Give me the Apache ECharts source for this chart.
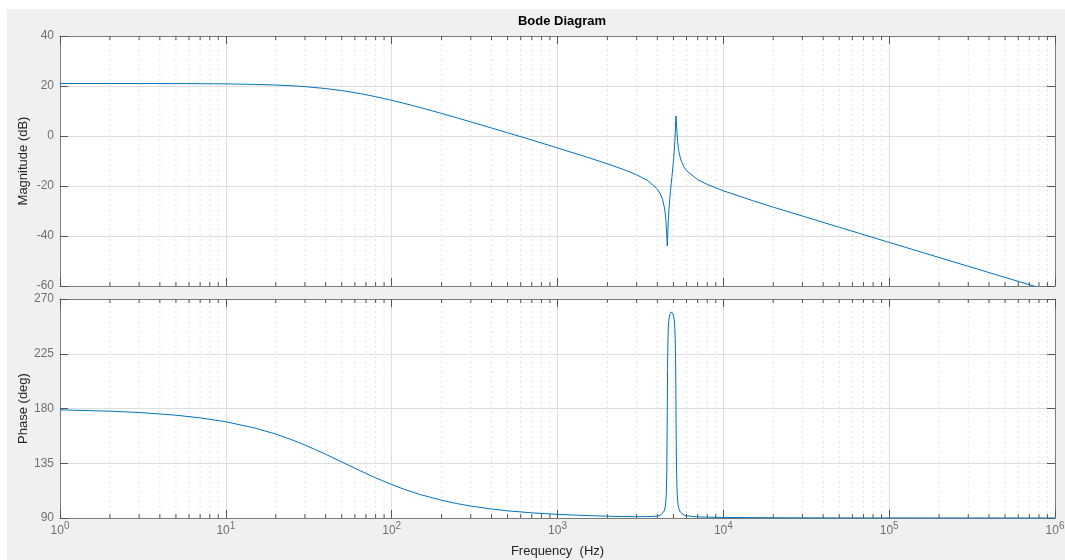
<!DOCTYPE html>
<html>
<head>
<meta charset="utf-8">
<title>Bode Diagram</title>
<script src="https://cdn.jsdelivr.net/npm/echarts@6/dist/echarts.min.js"></script>
<style>
  html, body { margin: 0; padding: 0; background: #fff; }
  #panel { position: absolute; left: 7px; top: 9px; width: 1058px; height: 551px; background: #f0f0f0; }
  #chart { position: absolute; left: 0; top: 0; width: 1065px; height: 560px; }
</style>
</head>
<body>
<div id="panel"></div>
<div id="chart"></div>
<script>
// frequency samples (Hz); dense around the notch / resonance
var freq = [1, 2, 3, 5, 7, 10, 15, 20, 25, 30,
  40, 50, 60, 70, 80, 100, 120, 150, 200, 250,
  300, 400, 500, 700, 1000, 1500, 2000, 2500, 3000, 3500,
  4000, 4200, 4300, 4400, 4450, 4500, 4530, 4560, 4592, 4610,
  4630, 4660, 4700, 4750, 4800, 4858, 4900, 5000, 5060, 5100,
  5130, 5160, 5184, 5200, 5220, 5250, 5300, 5350, 5400, 5500,
  5600, 5800, 6000, 7000, 8000, 10000, 15000, 20000, 50000, 100000,
  200000, 500000, 1000000];

// magnitude (dB)
var magnitude = [21.0, 21.0, 20.99, 20.96, 20.92, 20.84, 20.65, 20.4, 20.1, 19.75,
  18.98, 18.16, 17.32, 16.51, 15.73, 14.28, 12.99, 11.31, 9.02, 7.18,
  5.65, 3.21, 1.29, -1.6, -4.78, -8.42, -11.13, -13.39, -15.51, -17.84,
  -21.21, -23.6, -25.4, -28.2, -30.2, -33.3, -36.1, -40.0, -44.0, -41.7,
  -38.1, -33.6, -29.5, -25.4, -22.1, -18.6, -16.2, -10.2, -5.9, -2.2,
  1.3, 5.6, 8.0, 7.0, 4.8, 1.5, -2.1, -4.6, -6.3, -8.75,
  -10.3, -12.5, -13.9, -17.45, -19.38, -21.91, -25.84, -28.46, -36.5, -42.55,
  -48.6, -56.56, -62.56];

// phase (deg)
var phase = [178.9, 177.8, 176.7, 174.5, 172.3, 169.1, 163.9, 159.0, 154.3, 150.0,
  142.4, 136.1, 130.9, 126.6, 123.0, 117.5, 113.4, 109.1, 104.6, 101.75,
  99.8, 97.4, 95.9, 94.25, 93.0, 92.0, 91.5, 91.2, 91.1, 91.1,
  91.6, 92.5, 93.55, 95.8, 98.2, 103.3, 110.0, 126.0, 177.7, 212.8,
  233.7, 246.7, 253.5, 257.2, 258.8, 259.4, 259.4, 257.0, 252.7, 246.3,
  236.4, 214.0, 178.0, 152.0, 130.7, 114.9, 104.4, 99.95, 97.45, 94.95,
  93.65, 92.4, 91.8, 90.9, 90.7, 90.45, 90.3, 90.2, 90.06, 90.03,
  90.02, 90.0, 90.0];

// axis ranges / ticks
var magRange = [-60, 40], magStep = 20;
var phaseRange = [90, 270], phaseStep = 45;
var minorTicks = [];
for (var k = 0; k < 6; k++) {
  for (var d = 2; d <= 9; d++) minorTicks.push(d * Math.pow(10, k));
}

var font = '"Liberation Sans", Arial, sans-serif';
var boxColor = '#7a7a7a';
var tickColor = '#555';
var labelColor = '#707070';
var gridColor = '#dedede';

function supLabel(v) {
  return '10{s|' + Math.round(Math.log10(v)) + '}';
}

function xAx(gridIndex, pos, withLabels) {
  return {
    type: 'log', logBase: 10, gridIndex: gridIndex, position: pos,
    min: 1, max: 1e6, splitNumber: 6,
    axisLine: { show: true, onZero: false, lineStyle: { color: boxColor, width: 1 } },
    axisTick: { show: true, inside: true, length: 8, lineStyle: { color: tickColor } },
    axisLabel: withLabels ? {
      show: true, color: labelColor, fontSize: 12, fontFamily: font, margin: 3,
      showMinLabel: true, showMaxLabel: true,
      formatter: supLabel,
      rich: { s: { fontSize: 10, fontFamily: font, color: labelColor, padding: [0, 0, 10, 0] } }
    } : { show: false },
    splitLine: { show: pos === 'bottom', lineStyle: { color: gridColor, width: 1 } },
    minorTick: { show: false }, minorSplitLine: { show: false }
  };
}

function yAx(gridIndex, pos, range, step, name) {
  return {
    type: 'value', gridIndex: gridIndex, position: pos,
    min: range[0], max: range[1], interval: step,
    name: pos === 'left' ? name : '',
    nameLocation: 'middle', nameGap: 30, nameMoveOverlap: false,
    nameTextStyle: { color: '#262626', fontSize: 13, fontFamily: font },
    axisLine: { show: true, onZero: false, lineStyle: { color: boxColor, width: 1 } },
    axisTick: { show: true, inside: true, length: 8, lineStyle: { color: tickColor } },
    axisLabel: pos === 'left' ? {
      show: true, color: labelColor, fontSize: 12, fontFamily: font, margin: 6,
      showMinLabel: true, showMaxLabel: true
    } : { show: false },
    splitLine: { show: pos === 'left', lineStyle: { color: gridColor, width: 1 } }
  };
}

// dotted minor grid lines + short minor ticks at both edges
function minorSeries(xi, yi, range) {
  return {
    type: 'custom', xAxisIndex: xi, yAxisIndex: yi, silent: true, z: 1,
    data: minorTicks.map(function (v) { return [v, range[0]]; }),
    encode: { x: 0, y: 1 },
    clip: false,
    renderItem: function (params, api) {
      var v = api.value(0);
      var b = api.coord([v, range[0]]);
      var t = api.coord([v, range[1]]);
      return {
        type: 'group',
        children: [
          { type: 'line', shape: { x1: b[0], y1: b[1], x2: t[0], y2: t[1] },
            style: { stroke: '#e3e3e3', lineWidth: 1, lineDash: [2, 3] } },
          { type: 'line', shape: { x1: b[0], y1: b[1], x2: b[0], y2: b[1] - 4 },
            style: { stroke: tickColor, lineWidth: 1 } },
          { type: 'line', shape: { x1: t[0], y1: t[1], x2: t[0], y2: t[1] + 4 },
            style: { stroke: tickColor, lineWidth: 1 } }
        ]
      };
    }
  };
}

var chart = echarts.init(document.getElementById('chart'), null, { renderer: 'canvas' });
chart.setOption({
  animation: false,
  backgroundColor: 'transparent',
  title: {
    text: 'Bode Diagram', left: 557, top: 10, textAlign: 'center',
    textStyle: { fontSize: 13, fontWeight: 'bold', color: '#000', fontFamily: font }
  },
  grid: [
    { left: 60, top: 36, width: 995, height: 250, show: true, backgroundColor: '#fff', borderWidth: 0, outerBoundsMode: 'none' },
    { left: 60, top: 299, width: 995, height: 219, show: true, backgroundColor: '#fff', borderWidth: 0, outerBoundsMode: 'none' }
  ],
  xAxis: [
    xAx(0, 'bottom', false),
    xAx(0, 'top', false),
    Object.assign(xAx(1, 'bottom', true), {
      name: 'Frequency  (Hz)', nameLocation: 'middle', nameGap: 27, nameMoveOverlap: false,
      nameTextStyle: { color: '#262626', fontSize: 13, fontFamily: font }
    }),
    xAx(1, 'top', false)
  ],
  yAxis: [
    yAx(0, 'left', magRange, magStep, 'Magnitude (dB)'),
    yAx(0, 'right', magRange, magStep, ''),
    yAx(1, 'left', phaseRange, phaseStep, 'Phase (deg)'),
    yAx(1, 'right', phaseRange, phaseStep, '')
  ],
  series: [
    minorSeries(0, 0, magRange),
    minorSeries(2, 2, phaseRange),
    {
      name: 'Magnitude', type: 'line', xAxisIndex: 0, yAxisIndex: 0, z: 5,
      data: freq.map(function (f, i) { return [f, magnitude[i]]; }),
      showSymbol: false, smooth: false, clip: true,
      lineStyle: { color: '#0072BD', width: 1 }
    },
    {
      name: 'Phase', type: 'line', xAxisIndex: 2, yAxisIndex: 2, z: 5,
      data: freq.map(function (f, i) { return [f, phase[i]]; }),
      showSymbol: false, smooth: false, clip: true,
      lineStyle: { color: '#0072BD', width: 1 }
    }
  ]
});
</script>
</body>
</html>
